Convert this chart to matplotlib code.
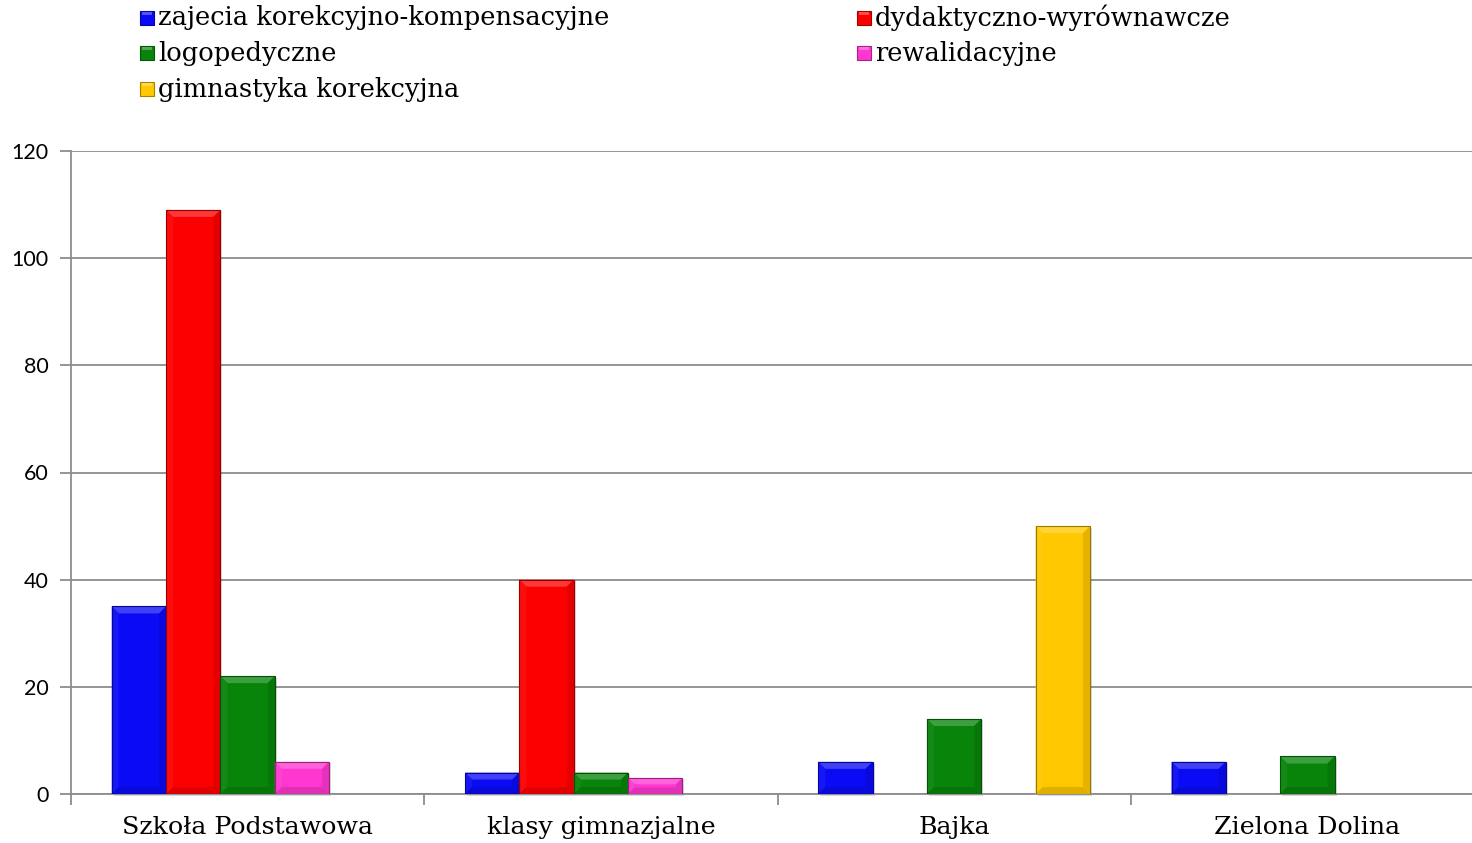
import matplotlib
matplotlib.use("Agg")
import matplotlib.pyplot as plt
from matplotlib.patches import Rectangle, Polygon
import matplotlib.colors as mcolors
import numpy as np

categories = ["Szkoła Podstawowa", "klasy gimnazjalne", "Bajka", "Zielona Dolina"]
series_names = ["zajecia korekcyjno-kompensacyjne", "dydaktyczno-wyrównawcze",
                "logopedyczne", "rewalidacyjne", "gimnastyka korekcyjna"]
zajecia = [35, 4, 6, 6]
dydaktyczno = [109, 40, 0, 0]
logopedyczne = [22, 4, 14, 7]
rewalidacyjne = [6, 3, 0, 0]
gimnastyka = [0, 0, 50, 0]
series_values = [zajecia, dydaktyczno, logopedyczne, rewalidacyjne, gimnastyka]
colors = ["#0a0af5", "#fc0000", "#08840a", "#ff36cf", "#ffc800"]
yticks = [0, 20, 40, 60, 80, 100, 120]

W, H = 1472, 843
fig = plt.figure(figsize=(W / 100, H / 100), dpi=100)
ax = fig.add_axes([71 / W, (H - 794) / H, (1484 - 71) / W, (794 - 151) / H])

ncat = len(categories)
nser = len(series_names)
bw = 1.0 / (nser + 1.5)
ax.set_xlim(0, ncat)
ax.set_ylim(0, 120)

def shade(c, f):
    r, g, b = mcolors.to_rgb(c)
    if f > 0:
        return (r + (1 - r) * f, g + (1 - g) * f, b + (1 - b) * f)
    return (r * (1 + f), g * (1 + f), b * (1 + f))

# pixel -> data scales
px_x = ncat / (1484 - 71)
px_y = 120 / (794 - 151)

for s, (vals, col) in enumerate(zip(series_values, colors)):
    for c, v in enumerate(vals):
        if v <= 0:
            continue
        x0 = c + 0.5 - nser * bw / 2 + s * bw
        x1 = x0 + bw
        # shadow
        ax.add_patch(Rectangle((x0 + 2 * px_x, -1.5 * px_y), bw, v, facecolor=(0, 0, 0, 0.15),
                               edgecolor="none", zorder=2, clip_on=False))
        ax.add_patch(Rectangle((x0, 0), bw, v, facecolor=col, edgecolor="none", zorder=3))
        b = min(7, v / px_y / 2.5)
        bx, by = b * px_x, b * px_y
        # top bevel (lighter)
        ax.add_patch(Polygon([(x0, v), (x1, v), (x1 - bx, v - by), (x0 + bx, v - by)],
                             closed=True, facecolor=shade(col, 0.22), edgecolor="none", zorder=4))
        # left bevel
        ax.add_patch(Polygon([(x0, v), (x0 + bx, v - by), (x0 + bx, by), (x0, 0)],
                             closed=True, facecolor=shade(col, 0.05), edgecolor="none", zorder=4))
        # right bevel
        ax.add_patch(Polygon([(x1, v), (x1 - bx, v - by), (x1 - bx, by), (x1, 0)],
                             closed=True, facecolor=shade(col, -0.1), edgecolor="none", zorder=4))
        # bottom bevel
        ax.add_patch(Polygon([(x0, 0), (x1, 0), (x1 - bx, by), (x0 + bx, by)],
                             closed=True, facecolor=shade(col, -0.12), edgecolor="none", zorder=4))
        ax.add_patch(Rectangle((x0, 0), bw, v, facecolor="none", edgecolor=shade(col, -0.4),
                               linewidth=0.8, zorder=5))

ax.set_yticks(yticks)
ax.set_yticklabels([str(t) for t in yticks], fontfamily="Lato", fontsize=15.5)
ax.yaxis.grid(True, color="#8c8c8c", linewidth=1.3)
ax.set_axisbelow(True)
ax.set_xticks(np.arange(ncat + 1))
ax.set_xticklabels([])
ax.set_xticks(np.arange(ncat) + 0.5, minor=True)
ax.set_xticklabels(categories, minor=True, fontfamily="DejaVu Serif", fontsize=18.2)
ax.tick_params(axis="x", which="minor", length=0, pad=16)
ax.tick_params(axis="x", which="major", length=8, color="#8c8c8c", width=1.3)
ax.tick_params(axis="y", length=8, color="#8c8c8c", width=1.3, pad=8)
for sp in ["top", "right"]:
    ax.spines[sp].set_visible(False)
for sp in ["left", "bottom"]:
    ax.spines[sp].set_color("#8c8c8c")
    ax.spines[sp].set_linewidth(1.3)

# legend (manual, two columns)
col_x = [140, 857]
row_y = [18, 53, 89]
for i, (name, col) in enumerate(zip(series_names, colors)):
    cx = col_x[i % 2]
    cy = row_y[i // 2]
    sz = 14
    fig.patches.append(Rectangle((cx / W, (H - cy - sz / 2) / H), sz / W, sz / H,
                                 facecolor=col, edgecolor=shade(col, -0.35), linewidth=0.8,
                                 transform=fig.transFigure, figure=fig))
    fig.patches.append(Rectangle(((cx + 2) / W, (H - cy + sz / 2 - 4) / H), (sz - 4) / W, 3 / H,
                                 facecolor=shade(col, 0.3), edgecolor="none",
                                 transform=fig.transFigure, figure=fig))
    fig.text((cx + 18) / W, (H - cy) / H, name, fontfamily="DejaVu Serif", fontsize=18.5,
             va="center", ha="left")

fig.savefig("out.png", dpi=100)
